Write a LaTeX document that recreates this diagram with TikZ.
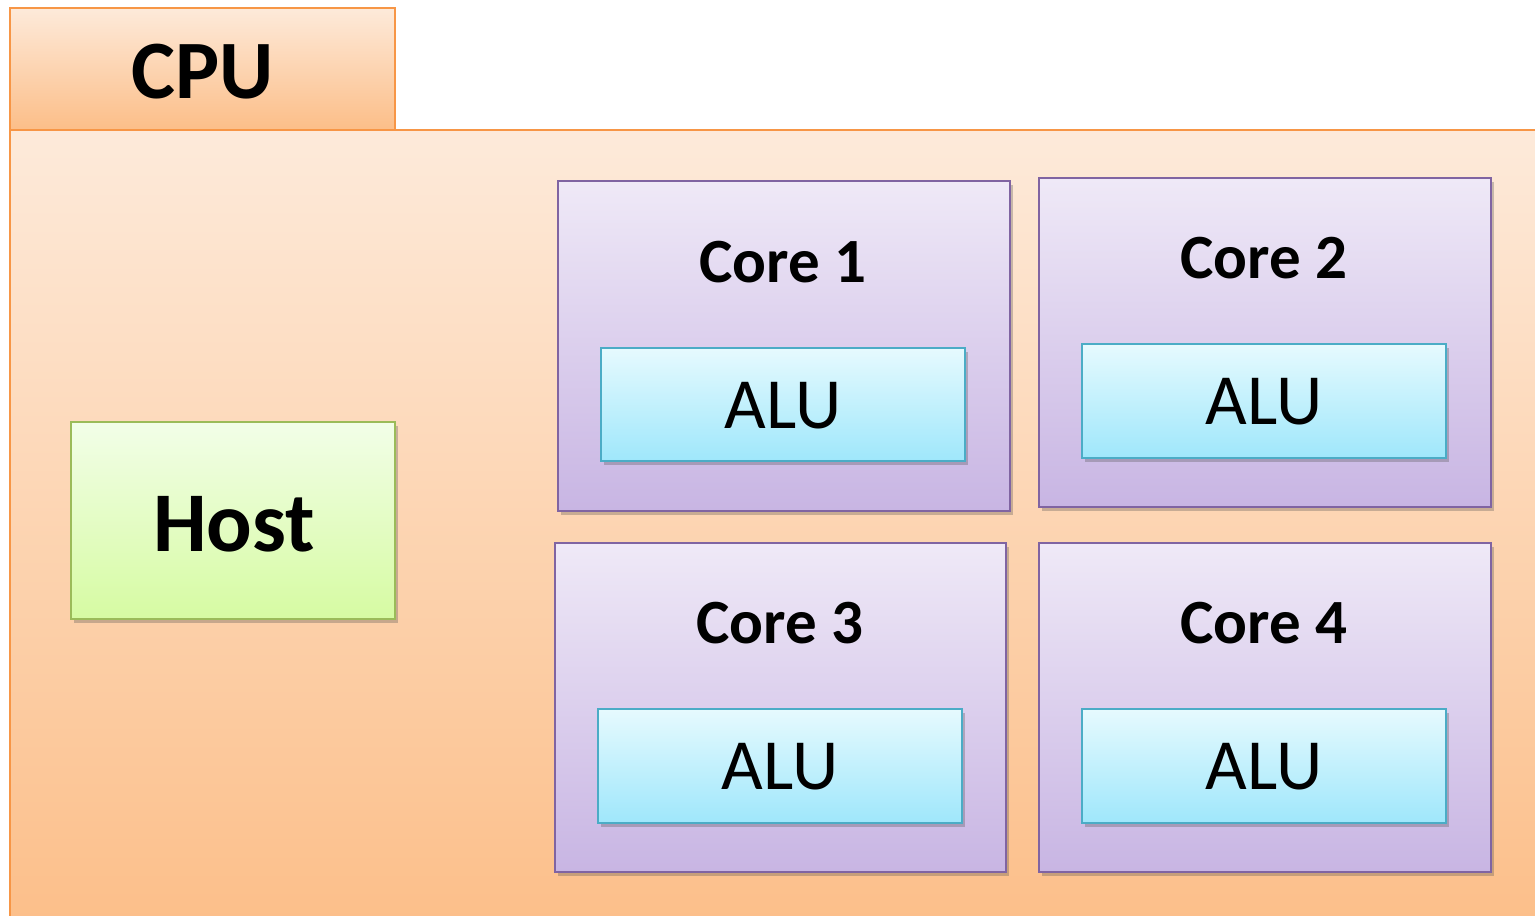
\documentclass[tikz,border=0pt]{standalone}
\usepackage{fontspec}
\setmainfont{Carlito}
\usetikzlibrary{shadows}
\definecolor{orangeline}{HTML}{F79646}
\definecolor{orangetop}{HTML}{FDEADA}
\definecolor{orangebot}{HTML}{FCBE88}
\definecolor{purpleline}{HTML}{8064A2}
\definecolor{purpletop}{HTML}{EFE9F7}
\definecolor{purplebot}{HTML}{C8B5E3}
\definecolor{aluline}{HTML}{4BACC6}
\definecolor{alutop}{HTML}{E6FAFE}
\definecolor{alubot}{HTML}{9FE7FB}
\definecolor{hostline}{HTML}{9BBB59}
\definecolor{hosttop}{HTML}{F2FEE8}
\definecolor{hostbot}{HTML}{D6FBA2}
\tikzset{
  boxshadow/.style={drop shadow={opacity=0.3, fill=black!70, shadow xshift=3pt, shadow yshift=-4pt}},
  panel/.style={draw=orangeline, line width=2pt, top color=orangetop, bottom color=orangebot},
  corebox/.style={draw=purpleline, line width=2pt, top color=purpletop, bottom color=purplebot, boxshadow},
  alubox/.style={draw=aluline, line width=2pt, top color=alutop, bottom color=alubot, boxshadow},
  hostbox/.style={draw=hostline, line width=2pt, top color=hosttop, bottom color=hostbot, boxshadow},
  coretitle/.style={font=\fontsize{63}{75}\selectfont\bfseries},
  alutext/.style={font=\fontsize{72}{84}\selectfont},
}
\begin{document}
\begin{tikzpicture}[x=1pt, y=-1pt]
\useasboundingbox (0,0) rectangle (1535,916);
\clip (0,0) rectangle (1535,916);
\fill[white] (0,0) rectangle (1535,916);
% CPU tab and body
\path[panel] (10,8) rectangle (395,130);
\node[font=\fontsize{83}{95}\selectfont\bfseries] (cpu) at (202.5,72) {CPU};
\path[panel] (10,130) rectangle (1560,940);
% host
\path[hostbox] (71,422) rectangle (395,619);
\node[font=\fontsize{85}{96}\selectfont\bfseries] (host) at (234,524) {Host};
% cores
\path[corebox] (558,181) rectangle (1010,511);
\node[coretitle] (c1) at (783,262) {Core 1};
\path[alubox] (601,348) rectangle (965,461);
\node[alutext] (a1) at (783,406) {ALU};
\path[corebox] (1039,178) rectangle (1491,507);
\node[coretitle] (c2) at (1264,258) {Core 2};
\path[alubox] (1082,344) rectangle (1446,458);
\node[alutext] (a2) at (1264,402) {ALU};
\path[corebox] (555,543) rectangle (1006,872);
\node[coretitle] (c3) at (780,623) {Core 3};
\path[alubox] (598,709) rectangle (962,823);
\node[alutext] (a3) at (780,767) {ALU};
\path[corebox] (1039,543) rectangle (1491,872);
\node[coretitle] (c4) at (1264,623) {Core 4};
\path[alubox] (1082,709) rectangle (1446,823);
\node[alutext] (a4) at (1264,767) {ALU};
\end{tikzpicture}
\end{document}
